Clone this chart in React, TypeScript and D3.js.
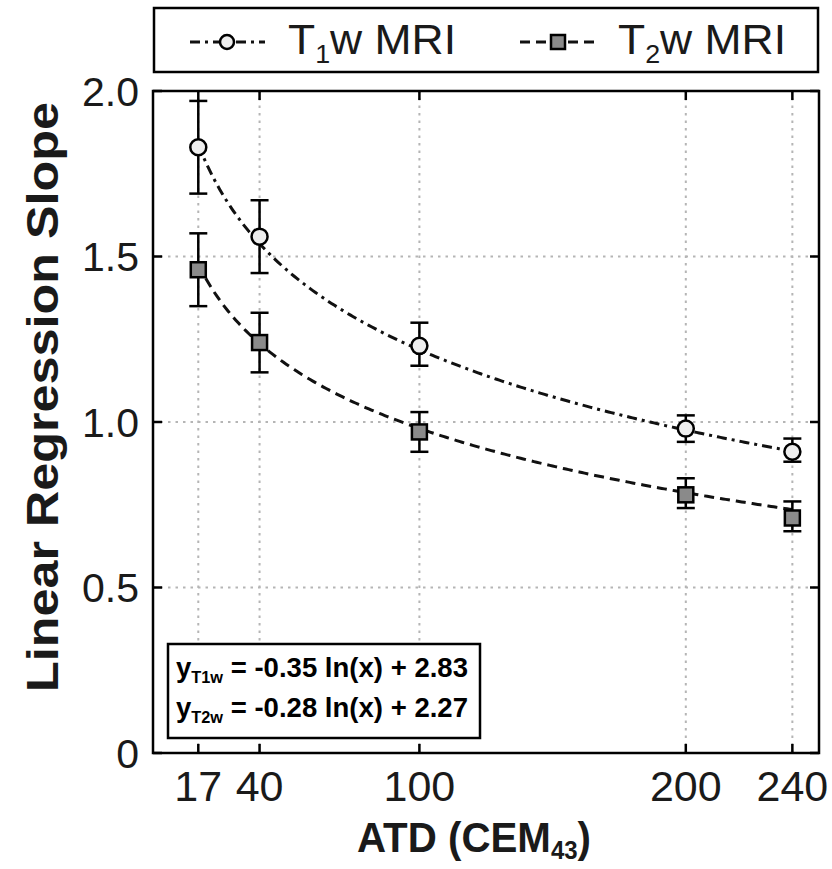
import React from "react";
import * as d3 from "d3";

// ATD values (CEM43) and measured slopes
const atd = [17, 40, 100, 200, 240];
const t1Slope = [1.83, 1.56, 1.23, 0.98, 0.91];
const t1Low = [1.69, 1.45, 1.17, 0.94, 0.88];
const t1High = [1.97, 1.67, 1.3, 1.02, 0.95];
const t2Slope = [1.46, 1.24, 0.97, 0.78, 0.71];
const t2Low = [1.35, 1.15, 0.91, 0.74, 0.67];
const t2High = [1.57, 1.33, 1.03, 0.83, 0.76];

// log fit coefficients: y = a ln(x) + b
const t1Fit = [-0.35, 2.83];
const t2Fit = [-0.28, 2.27];

const yTicks = [0, 0.5, 1.0, 1.5, 2.0];
const yTickLabels = ["0", "0.5", "1.0", "1.5", "2.0"];
const xTicks = atd;

const W = 832;
const H = 869;
const margin = { top: 91, right: 13, bottom: 116, left: 153 };

const App = () => {
  const x = d3.scaleLinear().domain([0, 250]).range([margin.left, W - margin.right]);
  const y = d3.scaleLinear().domain([0, 2]).range([H - margin.bottom, margin.top]);

  const fitPts = (c: number[]) => {
    const xs = d3.range(17, 240.5, 1);
    return xs.map((v) => [v, c[0] * Math.log(v) + c[1]] as [number, number]);
  };
  const line = d3.line<[number, number]>().x((d) => x(d[0])).y((d) => y(d[1]));

  const x0 = x.range()[0], x1 = x.range()[1];
  const y0 = y.range()[0], y1 = y.range()[1];
  const tick = 9;
  const font = "'Liberation Sans', Arial, sans-serif";
  const sq = 15;

  const errBar = (xv: number, lo: number, hi: number, k: string) => (
    <g key={k} stroke="#000" strokeWidth={2.5}>
      <line x1={x(xv)} x2={x(xv)} y1={y(lo)} y2={y(hi)} />
      <line x1={x(xv) - 9} x2={x(xv) + 9} y1={y(lo)} y2={y(lo)} />
      <line x1={x(xv) - 9} x2={x(xv) + 9} y1={y(hi)} y2={y(hi)} />
    </g>
  );

  return (
    <div>
      <style>{`body{margin:0}`}</style>
      <svg width={W} height={H} style={{ display: "block", background: "#fff" }} fontFamily={font}>
        {/* grid */}
        <g stroke="#b5b5b5" strokeWidth={2} strokeDasharray="2.5 5">
          {xTicks.map((t) => (
            <line key={"gx" + t} x1={x(t)} x2={x(t)} y1={y0} y2={y1} />
          ))}
          {yTicks.slice(1, -1).map((t) => (
            <line key={"gy" + t} x1={x0} x2={x1} y1={y(t)} y2={y(t)} />
          ))}
        </g>

        {/* fit curves */}
        <path d={line(fitPts(t1Fit)) || ""} fill="none" stroke="#111" strokeWidth={3} strokeDasharray="10 5 3 5" />
        <path d={line(fitPts(t2Fit)) || ""} fill="none" stroke="#111" strokeWidth={3} strokeDasharray="10 6" />

        {/* error bars */}
        {atd.map((v, i) => errBar(v, t1Low[i], t1High[i], "e1" + i))}
        {atd.map((v, i) => errBar(v, t2Low[i], t2High[i], "e2" + i))}

        {/* markers */}
        {atd.map((v, i) => (
          <circle key={"c" + i} cx={x(v)} cy={y(t1Slope[i])} r={8} fill="#eeeeee" stroke="#000" strokeWidth={2.5} />
        ))}
        {atd.map((v, i) => (
          <rect key={"s" + i} x={x(v) - sq / 2} y={y(t2Slope[i]) - sq / 2} width={sq} height={sq} fill="#8a8a8a" stroke="#000" strokeWidth={2.5} />
        ))}

        {/* equation box */}
        <rect x={168} y={644} width={312} height={94} fill="#fff" stroke="#000" strokeWidth={2.5} />
        <g fontWeight="bold" fontSize={27} fill="#000">
          <text x={176} y={677} textLength={292} lengthAdjust="spacingAndGlyphs">
            y<tspan fontSize={16} dy={6}>T1w</tspan>
            <tspan dy={-6}>{` = ${t1Fit[0].toFixed(2)} ln(x) + ${t1Fit[1].toFixed(2)}`}</tspan>
          </text>
          <text x={176} y={717} textLength={292} lengthAdjust="spacingAndGlyphs">
            y<tspan fontSize={16} dy={6}>T2w</tspan>
            <tspan dy={-6}>{` = ${t2Fit[0].toFixed(2)} ln(x) + ${t2Fit[1].toFixed(2)}`}</tspan>
          </text>
        </g>

        {/* frame and ticks */}
        <rect x={x0} y={y1} width={x1 - x0} height={y0 - y1} fill="none" stroke="#000" strokeWidth={2.5} />
        <g stroke="#000" strokeWidth={2.5}>
          {xTicks.map((t) => (
            <g key={"tx" + t}>
              <line x1={x(t)} x2={x(t)} y1={y0} y2={y0 - tick} />
              <line x1={x(t)} x2={x(t)} y1={y1} y2={y1 + tick} />
            </g>
          ))}
          {yTicks.map((t) => (
            <g key={"ty" + t}>
              <line x1={x0} x2={x0 + tick} y1={y(t)} y2={y(t)} />
              <line x1={x1} x2={x1 - tick} y1={y(t)} y2={y(t)} />
            </g>
          ))}
        </g>

        {/* tick labels */}
        <g fontSize={41} fill="#1a1a1a">
          {yTicks.map((t, i) => (
            <text key={"ly" + t} x={x0 - 14} y={y(t)} dy="0.36em" textAnchor="end">
              {yTickLabels[i]}
            </text>
          ))}
        </g>
        <g fontSize={43} fill="#1a1a1a">
          {xTicks.map((t) => (
            <text key={"lx" + t} x={x(t)} y={801} textAnchor="middle">
              {t}
            </text>
          ))}
        </g>

        {/* axis titles */}
        <text x={474} y={852} textAnchor="middle" fontWeight="bold" fontSize={42} fill="#1a1a1a"
          textLength={234} lengthAdjust="spacingAndGlyphs">
          ATD (CEM<tspan fontSize={25} dy={7}>43</tspan>
          <tspan dy={-7}>)</tspan>
        </text>
        <text transform={`translate(58,397) rotate(-90)`} textAnchor="middle" fontWeight="bold" fontSize={45} fill="#1a1a1a"
          textLength={590} lengthAdjust="spacingAndGlyphs">
          Linear Regression Slope
        </text>

        {/* legend */}
        <rect x={154} y={8} width={664} height={64} fill="#fff" stroke="#000" strokeWidth={2.5} />
        <line x1={190} x2={265} y1={42} y2={42} stroke="#111" strokeWidth={3} strokeDasharray="10 5 3 5" />
        <circle cx={227} cy={42} r={7} fill="#eeeeee" stroke="#000" strokeWidth={2.5} />
        <text x={288} y={54} fontSize={43} fill="#1a1a1a" textLength={168} lengthAdjust="spacingAndGlyphs">
          T<tspan fontSize={26} dy={9}>1</tspan>
          <tspan dy={-9}>w MRI</tspan>
        </text>
        <line x1={520} x2={595} y1={42} y2={42} stroke="#111" strokeWidth={3} strokeDasharray="10 6" />
        <rect x={558 - 7} y={42 - 7} width={14} height={14} fill="#8a8a8a" stroke="#000" strokeWidth={2.5} />
        <text x={618} y={54} fontSize={43} fill="#1a1a1a" textLength={168} lengthAdjust="spacingAndGlyphs">
          T<tspan fontSize={26} dy={9}>2</tspan>
          <tspan dy={-9}>w MRI</tspan>
        </text>
      </svg>
    </div>
  );
};

export default App;
